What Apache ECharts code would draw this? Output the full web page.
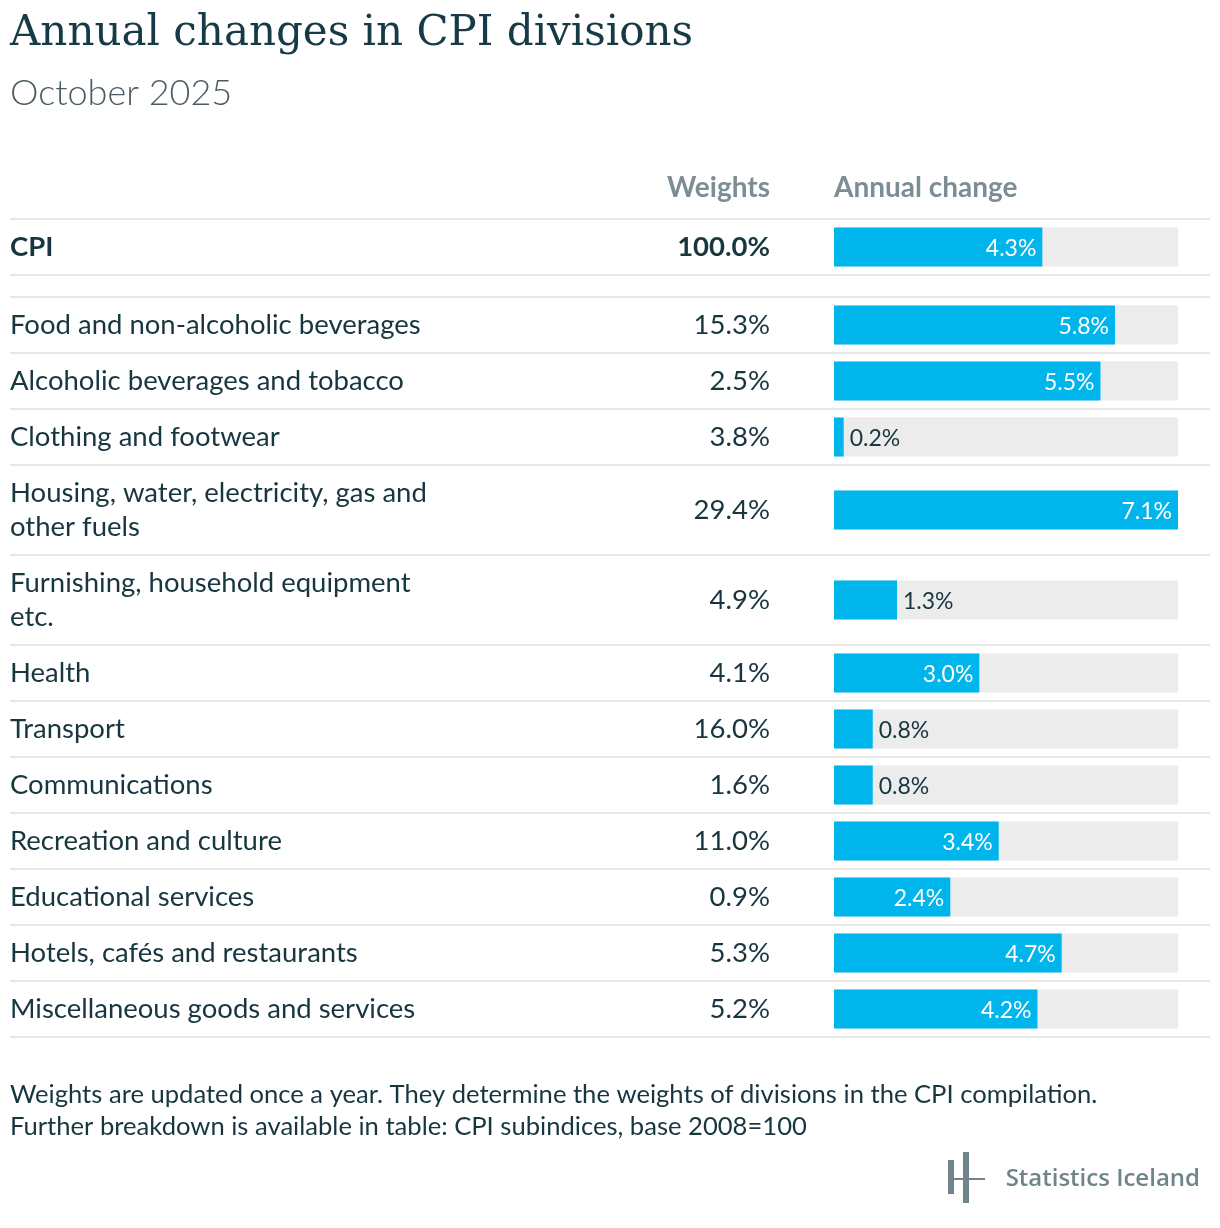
<!DOCTYPE html>
<html><head><meta charset="utf-8">
<script src="https://cdn.jsdelivr.net/npm/echarts@6/dist/echarts.min.js"></script>
<style>html,body{margin:0;padding:0;background:#fff}#c{width:1220px;height:1228px}</style>
</head><body><div id="c"></div>
<script>
const categories = ['CPI','Food and non-alcoholic beverages','Alcoholic beverages and tobacco','Clothing and footwear','Housing, water, electricity, gas and\nother fuels','Furnishing, household equipment\netc.','Health','Transport','Communications','Recreation and culture','Educational services','Hotels, cafés and restaurants','Miscellaneous goods and services'];
const weights = [100.0, 15.3, 2.5, 3.8, 29.4, 4.9, 4.1, 16.0, 1.6, 11.0, 0.9, 5.3, 5.2];
const changes = [4.3, 5.8, 5.5, 0.2, 7.1, 1.3, 3.0, 0.8, 0.8, 3.4, 2.4, 4.7, 4.2];
const headers = ['Weights', 'Annual change'];
const titleText = 'Annual changes in CPI divisions';
const subtitleText = 'October 2025';
const footnote = 'Weights are updated once a year. They determine the weights of divisions in the CPI compilation.\nFurther breakdown is available in table: CPI subindices, base 2008=100';
const brand = 'Statistics Iceland';

const DARK = '#17363f', GREY = '#7b8e95', BAR = '#00b5ec', BG = '#ececec', LINE = '#e7e7e7';
const FONT = 'Lato';
const maxVal = Math.max(...changes);
const BAR_LEFT = 834, BAR_W = 344, BAR_H = 39, NAME_X = 10, WEIGHT_X = 770;

const grids = [], xAxes = [], yAxes = [], series = [], graphics = [];
const lineYs = [];
let y = 219;
lineYs.push(y);
categories.forEach((cat, i) => {
  const h = cat.indexOf('\n') >= 0 ? 90 : 56;
  const bold = i === 0;
  grids.push({left: BAR_LEFT, width: BAR_W, top: y + (h - BAR_H) / 2, height: BAR_H});
  xAxes.push({type: 'value', gridIndex: i, min: 0, max: maxVal, show: false});
  yAxes.push({type: 'category', gridIndex: i, data: [cat], position: 'left',
    axisLine: {show: false}, axisTick: {show: false}, splitLine: {show: false},
    axisLabel: {align: 'left', margin: BAR_LEFT - NAME_X, color: DARK, fontFamily: FONT,
      fontSize: 27.5, lineHeight: 34, padding: [6, 0, 0, 0], fontWeight: bold ? 'bold' : 'normal'}});
  yAxes.push({type: 'category', gridIndex: i, data: [weights[i].toFixed(1) + '%'], position: 'left',
    axisLine: {show: false}, axisTick: {show: false}, splitLine: {show: false},
    axisLabel: {align: 'right', margin: BAR_LEFT - WEIGHT_X, color: DARK, fontFamily: FONT,
      fontSize: 27.5, padding: [6, 0, 0, 0], fontWeight: bold ? 'bold' : 'normal'}});
  const small = changes[i] < 2;
  series.push({type: 'bar', xAxisIndex: i, yAxisIndex: 2 * i, data: [changes[i]], barWidth: '100%',
    showBackground: true, backgroundStyle: {color: BG}, itemStyle: {color: BAR}, silent: true,
    label: {show: true, position: small ? 'right' : 'insideRight', distance: 6, offset: [0, 2],
      color: small ? DARK : '#fff', fontFamily: FONT, fontSize: 23,
      formatter: p => p.value.toFixed(1) + '%'}});
  y += h;
  lineYs.push(y);
  if (i === 0) { y += 22; lineYs.push(y); }
});

lineYs.forEach(ly => graphics.push({type: 'rect', shape: {x: NAME_X, y: ly - 1, width: 1200, height: 2}, style: {fill: LINE}, silent: true}));

graphics.push({type: 'text', left: NAME_X, top: 13, style: {text: titleText, font: '42px "DejaVu Serif"', fill: '#163b47'}});
graphics.push({type: 'text', left: NAME_X, top: 75, style: {text: subtitleText, font: '300 36px Lato', fill: '#4b5c62'}});
graphics.push({type: 'text', x: WEIGHT_X, y: 188, style: {text: headers[0], font: 'bold 28px Lato', fill: GREY, align: 'right', verticalAlign: 'middle'}});
graphics.push({type: 'text', x: BAR_LEFT, y: 188, style: {text: headers[1], font: 'bold 28px Lato', fill: GREY, align: 'left', verticalAlign: 'middle'}});
graphics.push({type: 'text', x: NAME_X, y: 1079, style: {text: footnote, font: '25.6px Lato', fill: DARK, lineHeight: 32, verticalAlign: 'top'}});
// logo
const LOGO = '#6f858b';
graphics.push({type: 'rect', shape: {x: 948, y: 1160, width: 6, height: 34}, style: {fill: LOGO}});
graphics.push({type: 'rect', shape: {x: 963, y: 1152, width: 6, height: 51}, style: {fill: LOGO}});
graphics.push({type: 'rect', shape: {x: 948, y: 1178, width: 37, height: 2}, style: {fill: LOGO}});
graphics.push({type: 'text', x: 1200, y: 1179, style: {text: brand, font: '600 24px "Open Sans"', fill: LOGO, align: 'right', verticalAlign: 'middle'}});

const chart = echarts.init(document.getElementById('c'), null, {renderer: 'canvas'});
chart.setOption({backgroundColor: '#fff', animation: false, grid: grids, xAxis: xAxes, yAxis: yAxes, series: series, graphic: graphics});
</script></body></html>
